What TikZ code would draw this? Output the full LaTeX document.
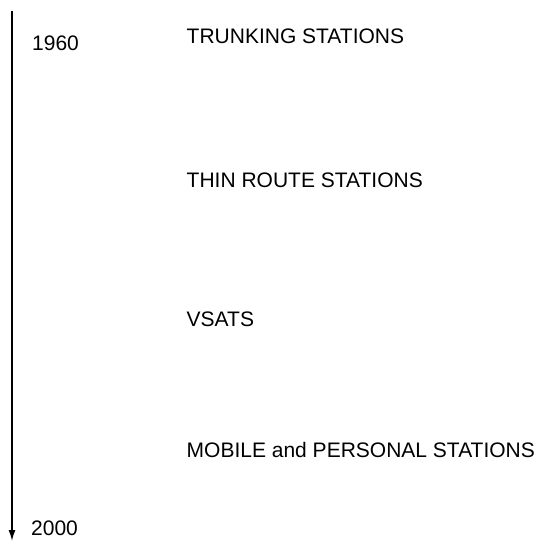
\documentclass[tikz,border=0pt]{standalone}
\usepackage{fontspec}
\setmainfont{Liberation Sans}
\usetikzlibrary{arrows.meta}
\tikzset{
  lbl/.style={anchor=base west, inner sep=0pt, font=\fontsize{21}{24}\selectfont},
  axis/.style={line width=1.5pt, -{Latex[length=11pt,width=7pt]}}
}
\begin{document}
\begin{tikzpicture}[x=1pt,y=-1pt]
\useasboundingbox (0,0) rectangle (543,542);
\coordinate (top) at (12,11);
\coordinate (bot) at (12,541);
\draw[axis] (top) -- (bot);
\node[lbl] (y1960) at (32,50) {1960};
\node[lbl] (y2000) at (31,535) {2000};
\node[lbl] (trunk) at (186.5,43) {TRUNKING STATIONS};
\node[lbl] (thin) at (186.5,187) {THIN ROUTE STATIONS};
\node[lbl] (vsat) at (186.5,326) {VSATS};
\node[lbl] (mobile) at (186.5,457) {MOBILE and PERSONAL STATIONS};
\end{tikzpicture}
\end{document}
